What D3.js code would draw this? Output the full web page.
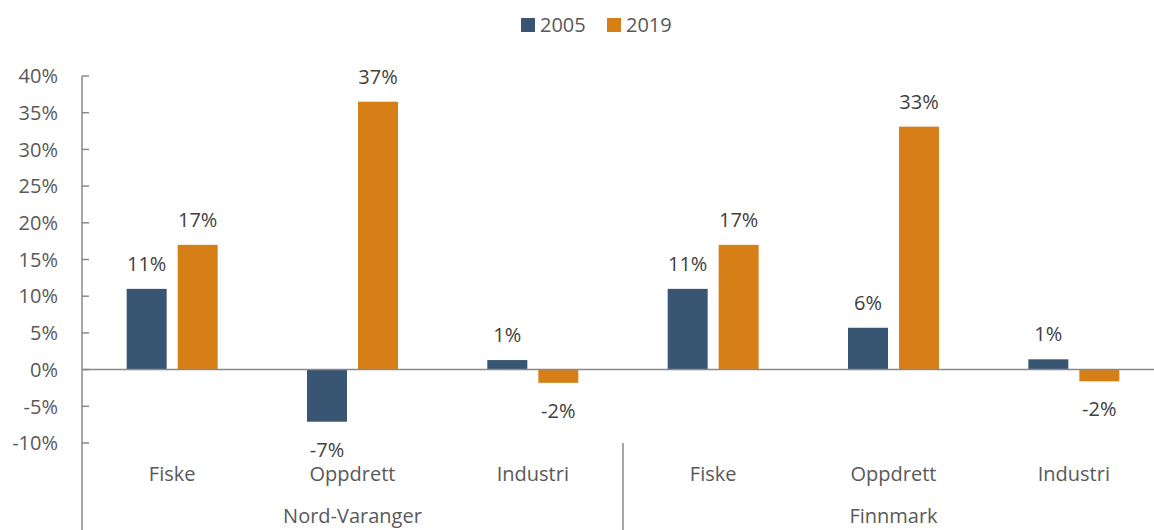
<!DOCTYPE html>
<html>
<head>
    <meta charset="utf-8">
    <title>Nord-Varanger og Finnmark</title>
    <style>
        body { margin: 0; background: #fff; }
        text { font-family: "Open Sans", sans-serif; }
    </style>
</head>
<body>
    <script src="https://d3js.org/d3.v7.min.js"></script>
    <script>
    // data
    var regions = ["Nord-Varanger", "Finnmark"];
    var sectors = ["Fiske", "Oppdrett", "Industri"];
    var series = ["2005", "2019"];
    var values2005 = [0.110, -0.071, 0.013, 0.110, 0.057, 0.014];
    var values2019 = [0.170, 0.365, -0.018, 0.170, 0.331, -0.016];
    var yTicks = [-0.10, -0.05, 0, 0.05, 0.10, 0.15, 0.20, 0.25, 0.30, 0.35, 0.40];
    var colors = {"2005": "#385574", "2019": "#D77F17"};

    const width = 1154;
    const height = 530;

    // one entry per category slot
    var cats = [];
    regions.forEach(function(r) {
        sectors.forEach(function(s) { cats.push(r + "|" + s); });
    });

    var svg = d3.select("body")
        .append("svg")
        .attr("width", width)
        .attr("height", height);

    var x0 = d3.scaleBand()
        .domain(cats)
        .range([82, 1164]);

    var bw = x0.bandwidth();
    var x1 = d3.scaleBand()
        .domain(series)
        .range([bw / 2 - 45.5, bw / 2 + 45.5])
        .paddingInner(11 / 51);

    var y = d3.scaleLinear()
        .domain([-0.10, 0.40])
        .range([443, 76]);

    // y axis labels and inside ticks
    var yAxis = svg.append("g");
    yAxis.selectAll("line.tick")
        .data(yTicks)
        .enter()
        .append("line")
        .attr("x1", 82).attr("x2", 89)
        .attr("y1", function(d) { return y(d); })
        .attr("y2", function(d) { return y(d); })
        .attr("stroke", "#898989")
        .attr("stroke-width", 1.5);
    yAxis.selectAll("text")
        .data(yTicks)
        .enter()
        .append("text")
        .attr("x", 58)
        .attr("y", function(d) { return y(d); })
        .attr("dy", "0.36em")
        .style("text-anchor", "end")
        .style("font-size", "20px")
        .attr("fill", "#595959")
        .text(function(d) { return Math.round(d * 100) + "%"; });

    // bars
    var rows = cats.map(function(c, i) {
        return [{c: c, s: "2005", v: values2005[i]}, {c: c, s: "2019", v: values2019[i]}];
    });

    var g = svg.selectAll("g.cat")
        .data(rows)
        .enter()
        .append("g")
        .attr("class", "cat")
        .attr("transform", function(d) { return "translate(" + x0(d[0].c) + ",0)"; });

    g.selectAll("rect")
        .data(function(d) { return d; })
        .enter()
        .append("rect")
        .attr("x", function(d) { return x1(d.s); })
        .attr("width", x1.bandwidth())
        .attr("y", function(d) { return y(Math.max(0, d.v)); })
        .attr("height", function(d) { return Math.abs(y(d.v) - y(0)); })
        .attr("fill", function(d) { return colors[d.s]; });

    g.selectAll("text")
        .data(function(d) { return d; })
        .enter()
        .append("text")
        .attr("x", function(d) { return x1(d.s) + x1.bandwidth() / 2; })
        .attr("y", function(d) { return d.v >= 0 ? y(d.v) - 18 : y(d.v) + 35; })
        .style("text-anchor", "middle")
        .style("font-size", "20px")
        .attr("fill", "#404040")
        .text(function(d) { return Math.round(d.v * 100) + "%"; });

    // zero line and vertical axis
    svg.append("line")
        .attr("x1", 82).attr("x2", 1164)
        .attr("y1", y(0)).attr("y2", y(0))
        .attr("stroke", "#898989").attr("stroke-width", 1.5);
    svg.append("line")
        .attr("x1", 82).attr("x2", 82)
        .attr("y1", y(0.40)).attr("y2", height)
        .attr("stroke", "#898989").attr("stroke-width", 1.5);

    // multi-level category labels
    svg.selectAll("text.sector")
        .data(cats)
        .enter()
        .append("text")
        .attr("class", "sector")
        .attr("x", function(d) { return x0(d) + bw / 2; })
        .attr("y", 481)
        .style("text-anchor", "middle")
        .style("font-size", "20px")
        .attr("fill", "#595959")
        .text(function(d) { return d.split("|")[1]; });

    svg.selectAll("text.region")
        .data(regions)
        .enter()
        .append("text")
        .attr("class", "region")
        .attr("x", function(d) { return x0(d + "|" + sectors[0]) + bw * sectors.length / 2; })
        .attr("y", 523)
        .style("text-anchor", "middle")
        .style("font-size", "20px")
        .attr("fill", "#595959")
        .text(function(d) { return d; });

    // separator between regions
    svg.selectAll("line.sep")
        .data(regions.slice(1))
        .enter()
        .append("line")
        .attr("class", "sep")
        .attr("x1", function(d) { return x0(d + "|" + sectors[0]); })
        .attr("x2", function(d) { return x0(d + "|" + sectors[0]); })
        .attr("y1", y(-0.10)).attr("y2", height)
        .attr("stroke", "#898989").attr("stroke-width", 1.5);

    // legend
    var legendX = [521, 607];
    var legend = svg.selectAll("g.legend")
        .data(series)
        .enter()
        .append("g")
        .attr("class", "legend")
        .attr("transform", function(d, i) { return "translate(" + legendX[i] + ",18)"; });
    legend.append("rect")
        .attr("width", 14).attr("height", 14)
        .attr("fill", function(d) { return colors[d]; });
    legend.append("text")
        .attr("x", 19).attr("y", 14)
        .style("font-size", "20px")
        .attr("fill", "#595959")
        .text(function(d) { return d; });
    </script>
</body>
</html>
